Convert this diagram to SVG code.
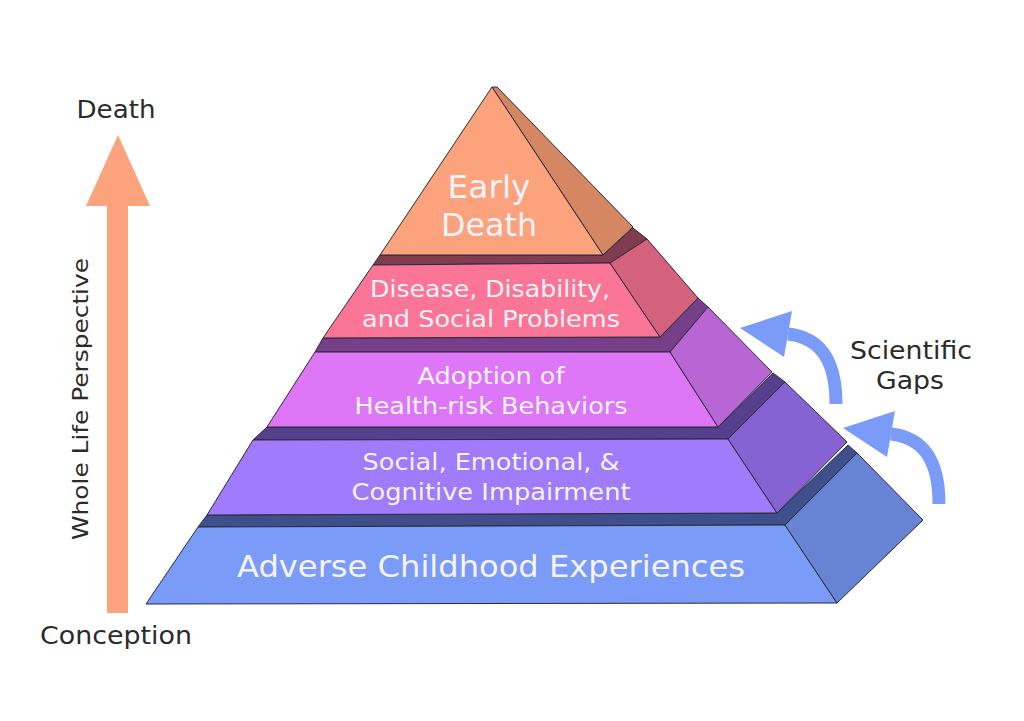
<svg xmlns="http://www.w3.org/2000/svg" width="1024" height="721" viewBox="0 0 1024 721">
<style>
.pf{stroke:#2a2a3a;stroke-width:1;stroke-linejoin:round}
.t{font-family:"DejaVu Sans",Verdana,sans-serif;fill:#f6f3f8;text-anchor:middle}
.lab{font-family:"DejaVu Sans",Verdana,sans-serif;fill:#2b2b2b;text-anchor:middle}
.gap{fill:none;stroke:#7b9bf8;stroke-width:13}
</style>
<rect width="1024" height="721" fill="#ffffff"/>

<g id="life-arrow">
<rect x="107" y="203" width="21" height="410" fill="#fca27d"/>
<polygon points="118,135 150,206 86,206" fill="#fca27d"/>
<text class="lab" x="116" y="118" font-size="24" textLength="79" lengthAdjust="spacingAndGlyphs">Death</text>
<text class="lab" x="116" y="644" font-size="24" textLength="152" lengthAdjust="spacingAndGlyphs">Conception</text>
<text class="lab" x="0" y="0" font-size="22" textLength="282" lengthAdjust="spacingAndGlyphs" transform="translate(88,399) rotate(-90)">Whole Life Perspective</text>
</g>

<g id="tier1">
<polygon class="pf" points="198,527 785,525 857,453 848,445 777,513 207,515" fill="#3f4f8c"/>
<polygon class="pf" points="146,604 837,603 785,525 198,527" fill="#7b9bf8"/>
<polygon class="pf" points="785,525 857,453 923,520 837,603" fill="#6783d4"/>
<text class="t" x="491" y="577" font-size="31" textLength="508" lengthAdjust="spacingAndGlyphs">Adverse Childhood Experiences</text>
</g>

<g id="tier2">
<polygon class="pf" points="253,440 728,439 785,382 773,373 718,427 267,427" fill="#56408e"/>
<polygon class="pf" points="207,515 777,513 728,439 253,440" fill="#a07bfb"/>
<polygon class="pf" points="728,439 785,382 847,442 777,513" fill="#8663d2"/>
<text class="t" x="491" y="470" font-size="23" textLength="257" lengthAdjust="spacingAndGlyphs">Social, Emotional, &amp;</text>
<text class="t" x="491" y="500" font-size="23" textLength="279" lengthAdjust="spacingAndGlyphs">Cognitive Impairment</text>
</g>

<g id="tier3">
<polygon class="pf" points="315,352 670,352 708,307 698,298 660,337 323,338" fill="#773f8a"/>
<polygon class="pf" points="267,427 718,427 670,352 315,352" fill="#dd76f7"/>
<polygon class="pf" points="670,352 708,307 772,372 718,427" fill="#b866d4"/>
<text class="t" x="491" y="384" font-size="23" textLength="147" lengthAdjust="spacingAndGlyphs">Adoption of</text>
<text class="t" x="491" y="414" font-size="23" textLength="273" lengthAdjust="spacingAndGlyphs">Health-risk Behaviors</text>
</g>

<g id="tier4">
<polygon class="pf" points="373,265 610,263 647,239 633,228 603,255 380,255" fill="#823c50"/>
<polygon class="pf" points="323,338 660,337 610,263 373,265" fill="#fb7596"/>
<polygon class="pf" points="610,263 647,239 698,298 660,337" fill="#d4627d"/>
<text class="t" x="490" y="297" font-size="23" textLength="240" lengthAdjust="spacingAndGlyphs">Disease, Disability,</text>
<text class="t" x="491" y="327" font-size="23" textLength="258" lengthAdjust="spacingAndGlyphs">and Social Problems</text>
</g>

<g id="tier5">
<polygon class="pf" points="492,87 497,87 633,227 603,255" fill="#d48762"/>
<polygon class="pf" points="492,87 603,255 380,255" fill="#fca27d"/>
<text class="t" x="489" y="198" font-size="32" textLength="83" lengthAdjust="spacingAndGlyphs">Early</text>
<text class="t" x="489" y="236" font-size="32" textLength="96" lengthAdjust="spacingAndGlyphs">Death</text>
</g>

<g id="connectors">
<path class="gap" d="M 836 404 C 836 362, 822 338, 788 334"/>
<polygon points="792,311 740,328 784,357" fill="#7b9bf8"/>
<path class="gap" d="M 939 504 C 939 462, 925 438, 891 434"/>
<polygon points="895,411 843,428 887,457" fill="#7b9bf8"/>
</g>

<g id="gaps-label">
<text class="lab" x="911" y="359" font-size="24" textLength="122" lengthAdjust="spacingAndGlyphs">Scientific</text>
<text class="lab" x="910" y="389" font-size="24" textLength="68" lengthAdjust="spacingAndGlyphs">Gaps</text>
</g>
</svg>
